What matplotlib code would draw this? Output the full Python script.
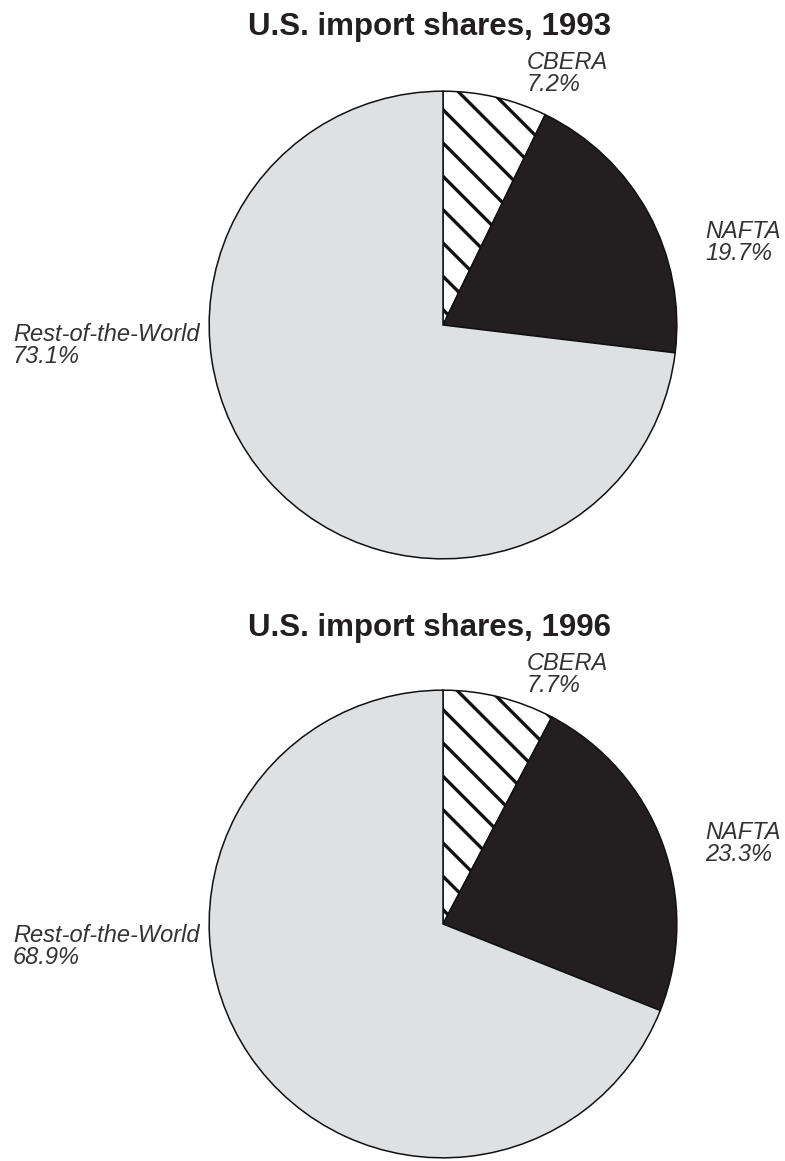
import matplotlib.pyplot as plt

# Data
regions = ['CBERA', 'NAFTA', 'Rest-of-the-World']
years = [1993, 1996]
shares = {1993: [7.2, 19.7, 73.1],
          1996: [7.7, 23.3, 68.9]}

# Figure size in pixels
W, H = 785, 1161
plt.rcParams['font.family'] = ['Liberation Sans', 'DejaVu Sans']
plt.rcParams['hatch.linewidth'] = 2.4

fig = plt.figure(figsize=(W / 100, H / 100), dpi=100)

# Pixel layout of each panel: pie centre y, vertical offset of texts
pie_cy = [325, 924]
text_off = [0, 601]
cx, r = 443, 235

# Label anchors (left x, top y) relative to first panel
label_pos = [(527, 51), (705, 220), (13, 323)]

colors = ['white', '#231f20', '#dfe0e2']
hatches = ['\\', None, None]

for k, year in enumerate(years):
    cy = pie_cy[k]
    ax = fig.add_axes([(cx - r) / W, 1 - (cy + r) / H, 2 * r / W, 2 * r / H])
    wedges, _ = ax.pie(shares[year], colors=colors, startangle=90,
                       counterclock=False, radius=1,
                       wedgeprops=dict(edgecolor='#111111', linewidth=1.1))
    for w, h in zip(wedges, hatches):
        if h:
            w.set_hatch(h)
    ax.set_xlim(-1.005, 1.005)
    ax.set_ylim(-1.005, 1.005)
    ax.set_aspect('auto')
    ax.axis('off')

    off = text_off[k]
    fig.text(430 / W, 1 - (35 + off) / H, 'U.S. import shares, ' + str(year),
             ha='center', va='baseline', fontsize=22.5, fontweight='bold',
             color='#231f20')
    for name, val, (x, y) in zip(regions, shares[year], label_pos):
        fig.text(x / W, 1 - (y + off) / H, name + '\n' + f'{val:.1f}%',
                 ha='left', va='top', fontsize=17, fontstyle='italic',
                 color='#333333', linespacing=0.92)

plt.savefig('out.png', dpi=100)
